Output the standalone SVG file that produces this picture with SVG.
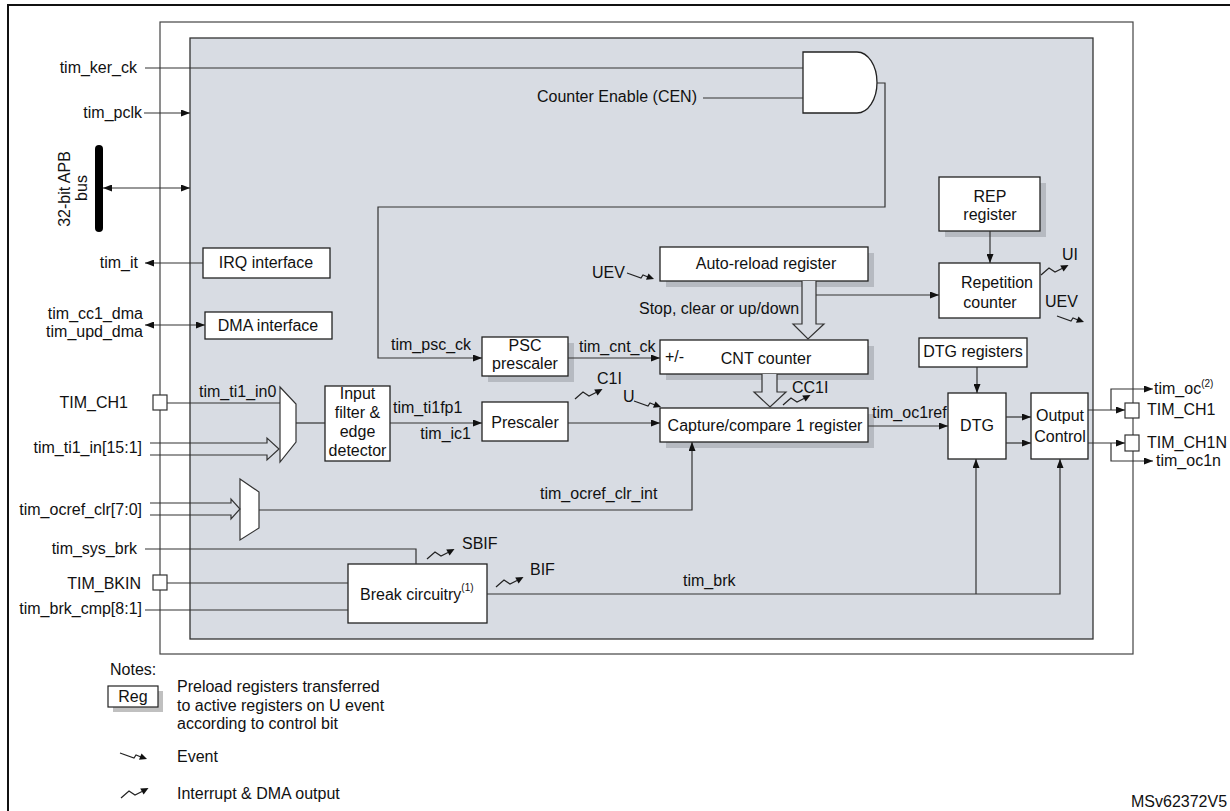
<svg xmlns="http://www.w3.org/2000/svg" width="1230" height="811" viewBox="0 0 1230 811">
<defs>
<style>
text{font-family:"Liberation Sans",Arial,sans-serif;font-size:16px;fill:#111}
.m{text-anchor:middle}
.e{text-anchor:end}
.sup{font-size:10px}
.box{fill:#fff;stroke:#222;stroke-width:1.3}
.sh{fill:#b6bac1}
.ln{fill:none;stroke:#333;stroke-width:1.2}
.ar{marker-end:url(#ah)}
.ar2{marker-start:url(#ah);marker-end:url(#ah)}
.pad{fill:#fff;stroke:#333;stroke-width:1.2}
</style>
<marker id="ah" viewBox="0 0 9 7" refX="9" refY="3.5" markerWidth="9" markerHeight="7" markerUnits="userSpaceOnUse" orient="auto-start-reverse"><path d="M0,0 L9,3.5 L0,7 z" fill="#111"/></marker>
<g id="ev"><path d="M0,0 L14,5 L16,2 L21,4" fill="none" stroke="#222" stroke-width="1.2"/><path d="M27,6 L19,6.8 L21.5,0.6 z" fill="#111"/></g>
<g id="irq"><path d="M0,0 L8,-7 L14,-3 L21,-6.5" fill="none" stroke="#222" stroke-width="1.2"/><path d="M27.5,-10 L22.6,-3.4 L19.2,-9.4 z" fill="#111"/></g>
</defs>
<rect x="0" y="0" width="1230" height="811" fill="#fff"/>
<path d="M8,811 V5 H1230" fill="none" stroke="#111" stroke-width="2"/>
<rect x="160" y="22" width="973" height="632" fill="#fff" stroke="#444" stroke-width="1.2"/>
<rect x="190" y="38" width="903" height="601" fill="#d8dce3" stroke="#333" stroke-width="1.3"/>

<g id="gate">
<path d="M803,52 H857 A20,30.5 0 0 1 857,113 H803 Z" fill="#fff" stroke="#222" stroke-width="1.3"/>
</g>

<g id="apb-bus">
<line x1="99" y1="149" x2="99" y2="228" stroke="#000" stroke-width="8" stroke-linecap="round"/>
<text class="m" transform="translate(70,189) rotate(-90)">32-bit APB</text>
<text class="m" transform="translate(87,188) rotate(-90)">bus</text>
</g>

<g id="irq-interface">
<rect class="box" x="203" y="248" width="127" height="30"/>
<text class="m" x="266" y="268">IRQ interface</text>
</g>
<g id="dma-interface">
<rect class="box" x="205" y="312" width="127" height="27"/>
<text class="m" x="268" y="331">DMA interface</text>
</g>

<g id="mux1"><polygon points="280,387 296,404 296,442 280,462" fill="#fff" stroke="#333" stroke-width="1.2"/></g>
<g id="mux2"><polygon points="240,479 259,492 259,528 240,540" fill="#fff" stroke="#333" stroke-width="1.2"/></g>

<g id="input-filter">
<rect class="box" x="325" y="386" width="65" height="75"/>
<text class="m" x="357.5" y="399">Input</text>
<text class="m" x="357.5" y="418">filter &amp;</text>
<text class="m" x="357.5" y="437">edge</text>
<text class="m" x="357.5" y="456">detector</text>
</g>

<g id="psc-prescaler">
<rect class="sh" x="488" y="343" width="86" height="39"/>
<rect class="box" x="482" y="337" width="86" height="39"/>
<text class="m" x="525" y="351">PSC</text>
<text class="m" x="525" y="369">prescaler</text>
</g>

<g id="prescaler">
<rect class="box" x="482" y="402" width="86" height="39"/>
<text class="m" x="525" y="428">Prescaler</text>
</g>

<g id="auto-reload">
<rect class="sh" x="666" y="253" width="208" height="34"/>
<rect class="box" x="660" y="247" width="208" height="34"/>
<text class="m" x="766" y="269">Auto-reload register</text>
</g>

<g id="cnt-counter">
<rect class="sh" x="666" y="346" width="208" height="34"/>
<rect class="box" x="660" y="340" width="208" height="34"/>
<text x="665" y="362">+/-</text>
<text class="m" x="766" y="364">CNT counter</text>
</g>

<g id="capture-compare">
<rect class="sh" x="666" y="414" width="208" height="34"/>
<rect class="box" x="660" y="408" width="208" height="34"/>
<text class="m" x="765" y="431">Capture/compare 1 register</text>
</g>

<g id="rep-register">
<rect class="sh" x="945" y="183" width="101" height="54"/>
<rect class="box" x="939" y="177" width="101" height="54"/>
<text class="m" x="990" y="202">REP</text>
<text class="m" x="990" y="220">register</text>
</g>

<g id="repetition-counter">
<rect class="box" x="939" y="263" width="101" height="55"/>
<text class="m" x="997" y="288">Repetition</text>
<text class="m" x="990" y="308">counter</text>
</g>

<g id="dtg-registers">
<rect class="box" x="919" y="338" width="108" height="29"/>
<text class="m" x="973" y="357">DTG registers</text>
</g>
<g id="dtg">
<rect class="box" x="948" y="393" width="58" height="66"/>
<text class="m" x="977" y="431">DTG</text>
</g>
<g id="output-control">
<rect class="box" x="1031" y="393" width="57" height="66"/>
<text class="m" x="1060" y="421">Output</text>
<text class="m" x="1060" y="442">Control</text>
</g>

<g id="break-circuitry">
<rect class="box" x="348" y="564" width="139" height="59"/>
<text x="360" y="600">Break circuitry<tspan class="sup" dy="-9">(1)</tspan></text>
</g>

<g id="pads">
<rect class="pad" x="153" y="395" width="14" height="15"/>
<rect class="pad" x="153" y="575" width="14" height="15"/>
<rect class="pad" x="1125" y="403" width="14" height="15"/>
<rect class="pad" x="1125" y="435" width="14" height="16"/>
</g>

<g id="connectors">
<path class="ln" d="M145,68 H803"/>
<path class="ln" d="M703,98 H803"/>
<path class="ln ar" d="M877,83 H885 V207 H378 V358 H482"/>
<path class="ln ar" d="M144,113 H190"/>
<path class="ln ar2" d="M103,188 H190"/>
<path class="ln ar" d="M203,263 H145"/>
<path class="ln ar2" d="M145,325 H205"/>
<path class="ln" d="M167,403 H280"/>
<path class="ln" d="M150,443 H267 V438 L279,449 L267,460 V455 H150"/>
<path class="ln" d="M296,423 H325"/>
<path class="ln ar" d="M390,423 H482"/>
<path class="ln ar" d="M568,423 H660"/>
<path class="ln ar" d="M568,358 H660"/>
<path d="M802,281 V324 H793 L808,339 L824,324 H816 V281" fill="#d8dce3" stroke="#333" stroke-width="1.2"/>
<path d="M762,374 V392 H754 L770,407 L786,392 H777 V374" fill="#d8dce3" stroke="#333" stroke-width="1.2"/>
<path class="ln ar" d="M816,295 H939"/>
<path class="ln ar" d="M990,231 V263"/>
<path class="ln" d="M150,503 H231 V499 L240,509 L231,519 V515 H150"/>
<path class="ln ar" d="M259,510 H692 V442"/>
<path class="ln ar" d="M868,426 H948"/>
<path class="ln ar" d="M977,367 V393"/>
<path class="ln ar" d="M1006,417 H1031"/>
<path class="ln ar" d="M1006,443 H1031"/>
<path class="ln ar" d="M1088,410 H1125"/>
<path class="ln ar" d="M1111,410 V389 H1153"/>
<path class="ln ar" d="M1088,443 H1125"/>
<path class="ln ar" d="M1111,443 V461 H1153"/>
<path class="ln" d="M145,549 H416 V564"/>
<path class="ln" d="M167,583 H348"/>
<path class="ln" d="M145,610 H348"/>
<path class="ln ar" d="M487,594 H1060 V459"/>
<path class="ln ar" d="M976,594 V459"/>
</g>

<g id="events">
<use href="#ev" x="627" y="273"/>
<use href="#ev" x="634" y="401"/>
<use href="#ev" x="1057" y="316"/>
<use href="#irq" x="575" y="399"/>
<use href="#irq" x="783" y="405"/>
<use href="#irq" x="1041" y="275"/>
<use href="#irq" x="427" y="559"/>
<use href="#irq" x="496" y="587"/>
</g>

<g id="labels">
<text class="e" x="137" y="73">tim_ker_ck</text>
<text class="e" x="697" y="102">Counter Enable (CEN)</text>
<text class="e" x="142" y="118">tim_pclk</text>
<text class="e" x="138" y="268">tim_it</text>
<text class="e" x="143" y="319">tim_cc1_dma</text>
<text class="e" x="143" y="337">tim_upd_dma</text>
<text class="e" x="128" y="408">TIM_CH1</text>
<text x="199" y="397">tim_ti1_in0</text>
<text class="e" x="142" y="453">tim_ti1_in[15:1]</text>
<text x="393" y="413">tim_ti1fp1</text>
<text class="e" x="471" y="439">tim_ic1</text>
<text x="391" y="350">tim_psc_ck</text>
<text x="579" y="352">tim_cnt_ck</text>
<text x="592" y="278">UEV</text>
<text x="639" y="314">Stop, clear or up/down</text>
<text x="597" y="384">C1I</text>
<text x="623" y="402">U</text>
<text x="792" y="393">CC1I</text>
<text x="872" y="418">tim_oc1ref</text>
<text x="1062" y="260">UI</text>
<text x="1045" y="307">UEV</text>
<text x="1154" y="394">tim_oc<tspan class="sup" dy="-7">(2)</tspan></text>
<text x="1147" y="415">TIM_CH1</text>
<text x="1147" y="448">TIM_CH1N</text>
<text x="1156" y="466">tim_oc1n</text>
<text class="e" x="142" y="515">tim_ocref_clr[7:0]</text>
<text x="540" y="499">tim_ocref_clr_int</text>
<text class="e" x="137" y="554">tim_sys_brk</text>
<text x="462" y="549">SBIF</text>
<text class="e" x="141" y="589">TIM_BKIN</text>
<text class="e" x="142" y="614">tim_brk_cmp[8:1]</text>
<text x="530" y="575">BIF</text>
<text x="683" y="586">tim_brk</text>
</g>

<g id="legend">
<text x="110" y="675">Notes:</text>
<rect x="113" y="691" width="50" height="21" fill="#c0c0c0"/>
<rect x="108" y="686" width="50" height="21" fill="#fff" stroke="#222" stroke-width="1.2"/>
<text class="m" x="133" y="702">Reg</text>
<text x="177" y="692">Preload registers transferred</text>
<text x="177" y="711">to active registers on U event</text>
<text x="177" y="729">according to control bit</text>
<use href="#ev" x="120" y="753"/>
<text x="177" y="762">Event</text>
<use href="#irq" x="121" y="798"/>
<text x="177" y="799">Interrupt &amp; DMA output</text>
</g>

<text x="1131" y="807">MSv62372V5</text>
</svg>
